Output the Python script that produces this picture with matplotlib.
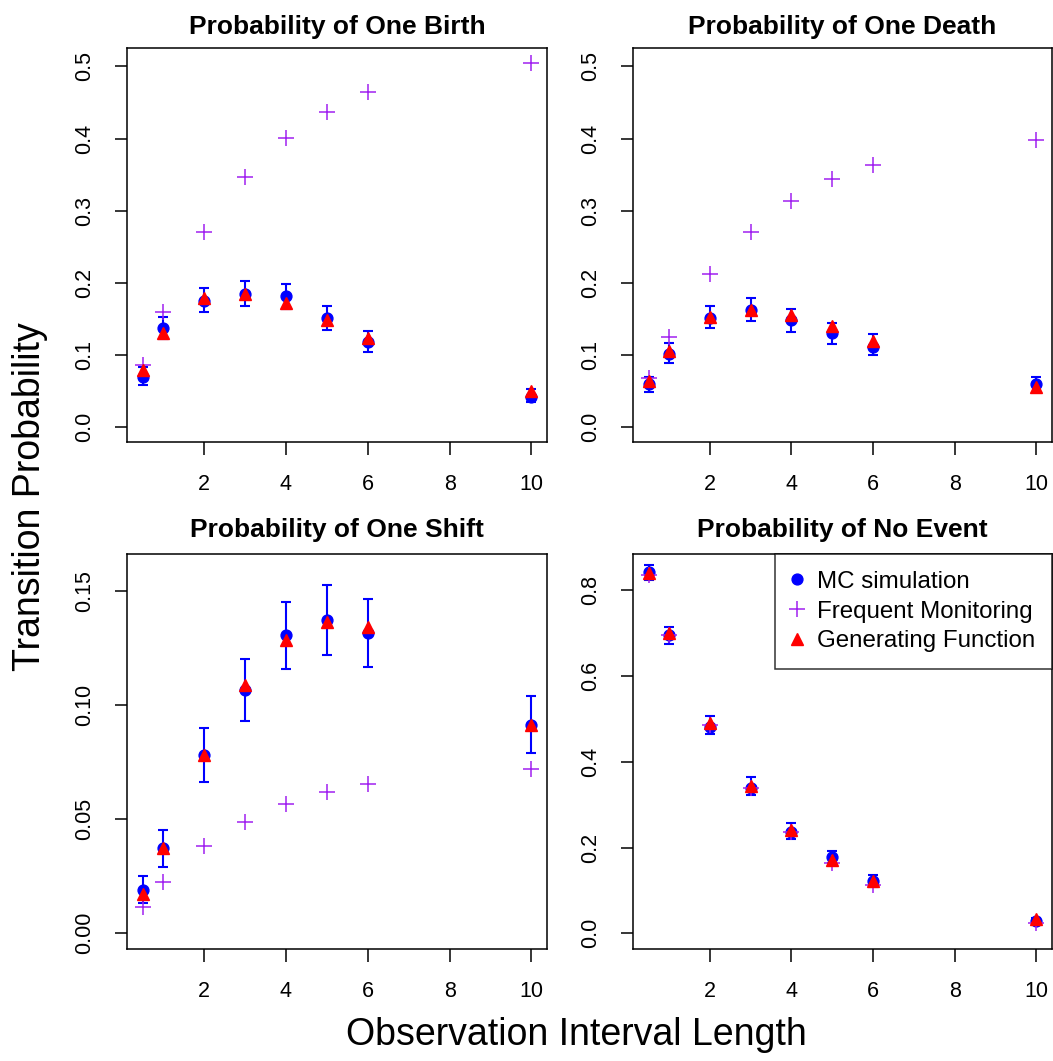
import numpy as np
import matplotlib
matplotlib.use("Agg")
import matplotlib.pyplot as plt
from matplotlib.lines import Line2D

plt.rcParams['font.family'] = ['Liberation Sans', 'DejaVu Sans']

x = [0.5, 1, 2, 3, 4, 5, 6, 10]

birth_mc = [0.070, 0.138, 0.175, 0.185, 0.182, 0.151, 0.118, 0.042]
birth_lo = [0.059, 0.122, 0.159, 0.168, 0.164, 0.135, 0.104, 0.035]
birth_hi = [0.083, 0.153, 0.193, 0.202, 0.198, 0.168, 0.133, 0.053]
birth_fm = [0.086, 0.159, 0.270, 0.347, 0.401, 0.437, 0.464, 0.505]
birth_gf = [0.079, 0.131, 0.179, 0.185, 0.172, 0.149, 0.123, 0.050]

death_mc = [0.060, 0.102, 0.152, 0.163, 0.148, 0.131, 0.111, 0.060]
death_lo = [0.049, 0.089, 0.137, 0.147, 0.132, 0.115, 0.100, 0.049]
death_hi = [0.070, 0.116, 0.168, 0.179, 0.164, 0.145, 0.129, 0.070]
death_fm = [0.068, 0.125, 0.212, 0.271, 0.314, 0.344, 0.363, 0.398]
death_gf = [0.064, 0.106, 0.153, 0.162, 0.155, 0.140, 0.120, 0.056]

shift_mc = [0.0187, 0.0370, 0.0780, 0.1065, 0.1307, 0.1373, 0.1314, 0.0912]
shift_lo = [0.0129, 0.0287, 0.0663, 0.0931, 0.1158, 0.1220, 0.1168, 0.0788]
shift_hi = [0.0249, 0.0451, 0.0897, 0.1203, 0.1453, 0.1525, 0.1465, 0.1039]
shift_fm = [0.0114, 0.0224, 0.0380, 0.0487, 0.0565, 0.0616, 0.0653, 0.0719]
shift_gf = [0.0168, 0.0370, 0.0780, 0.1087, 0.1285, 0.1363, 0.1343, 0.0912]

none_mc = [0.841, 0.695, 0.482, 0.338, 0.237, 0.179, 0.123, 0.029]
none_lo = [0.824, 0.674, 0.465, 0.322, 0.220, 0.163, 0.107, 0.022]
none_hi = [0.858, 0.713, 0.507, 0.364, 0.258, 0.193, 0.136, 0.036]
none_fm = [0.835, 0.695, 0.486, 0.338, 0.237, 0.163, 0.113, 0.025]
none_gf = [0.839, 0.699, 0.490, 0.343, 0.241, 0.171, 0.123, 0.033]

titles = ["Probability of One Birth", "Probability of One Death",
          "Probability of One Shift", "Probability of No Event"]
yticks = [[0.0, 0.1, 0.2, 0.3, 0.4, 0.5], [0.0, 0.1, 0.2, 0.3, 0.4, 0.5],
          [0.00, 0.05, 0.10, 0.15], [0.0, 0.2, 0.4, 0.6, 0.8]]
ytick_labels = [["0.0", "0.1", "0.2", "0.3", "0.4", "0.5"],
                ["0.0", "0.1", "0.2", "0.3", "0.4", "0.5"],
                ["0.00", "0.05", "0.10", "0.15"],
                ["0.0", "0.2", "0.4", "0.6", "0.8"]]
xticks = [2, 4, 6, 8, 10]
legend_labels = ["MC simulation", "Frequent Monitoring", "Generating Function"]

W, H = 1053, 1061
fig = plt.figure(figsize=(W / 100, H / 100), dpi=100)

# panel boxes in pixels: left, top, right, bottom
boxes = [(127, 48, 547, 442), (633, 48, 1052, 442),
         (127, 554, 547, 949), (633, 554, 1052, 949)]
ylims = [(-0.0205, 0.5255), (-0.0205, 0.5255), (-0.0072, 0.1662), (-0.0365, 0.884)]
title_base = [34, 34, 537, 537]

panels = [(birth_mc, birth_lo, birth_hi, birth_fm, birth_gf),
          (death_mc, death_lo, death_hi, death_fm, death_gf),
          (shift_mc, shift_lo, shift_hi, shift_fm, shift_gf),
          (none_mc, none_lo, none_hi, none_fm, none_gf)]

for i, (mc, lo, hi, fm, gf) in enumerate(panels):
    l, t, r, b = boxes[i]
    ax = fig.add_axes([l / W, 1 - b / H, (r - l) / W, (b - t) / H])
    mc = np.array(mc)
    yerr = [mc - np.array(lo), np.array(hi) - mc]
    ax.errorbar(x, mc, yerr=yerr, fmt='none', ecolor='blue', elinewidth=1.5,
                capsize=3.8, capthick=1.5, zorder=2)
    ax.plot(x, mc, 'o', color='blue', markersize=7.8, zorder=3)
    ax.plot(x, fm, '+', color='#A020F0', markersize=12, mew=1.1, zorder=4)
    ax.plot(x, gf, '^', color='red', markersize=9, zorder=5)

    ax.set_xlim(0.12, 10.38)
    ax.set_ylim(*ylims[i])
    ax.set_xticks(xticks)
    ax.set_xticklabels([str(v) for v in xticks])
    ax.set_yticks(yticks[i])
    ax.set_yticklabels(ytick_labels[i], rotation=90, va='center')
    ax.tick_params(length=9, width=1.1, labelsize=15.5, pad=14, direction='out')
    for s in ax.spines.values():
        s.set_linewidth(1.1)
    fig.text((l + r) / 2 / W, 1 - title_base[i] / H, titles[i],
             ha='center', va='baseline', fontsize=19, fontweight='bold')

    if i == 3:
        handles = [Line2D([], [], ls='none', marker='o', color='blue', markersize=7.8),
                   Line2D([], [], ls='none', marker='+', color='#A020F0', markersize=12, mew=1.1),
                   Line2D([], [], ls='none', marker='^', color='red', markersize=9)]
        leg = ax.legend(handles, legend_labels, loc='upper right', fontsize=17.4,
                        frameon=True, fancybox=False, borderaxespad=0,
                        handlelength=0.42, handletextpad=0.6, labelspacing=0.32,
                        borderpad=0.7)
        leg.get_frame().set_edgecolor('black')
        leg.get_frame().set_linewidth(1.1)

fig.text(576 / W, 1 - 1035 / H, "Observation Interval Length",
         ha='center', va='center', fontsize=27)
fig.text(30 / W, 1 - 497 / H, "Transition Probability",
         ha='center', va='center', fontsize=27, rotation=90)

fig.savefig("out.png", dpi=100)
